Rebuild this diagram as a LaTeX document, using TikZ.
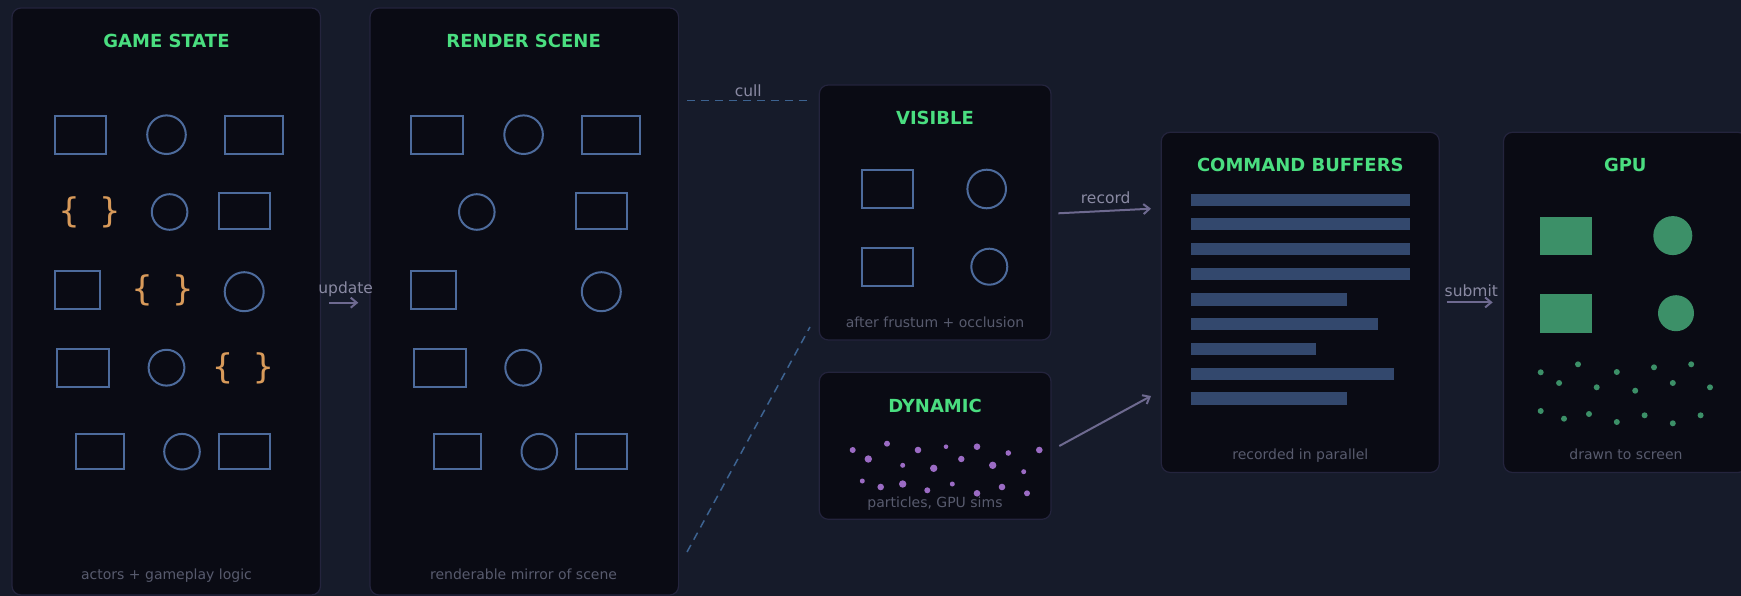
\documentclass[tikz,border=0pt]{standalone}
\usepackage{fontspec}
\setmainfont{DejaVu Sans}
\newfontfamily\bracefont{DejaVu Sans Mono}
\usetikzlibrary{arrows.meta,calc}
\definecolor{bgcol}{HTML}{161B2A}
\definecolor{panelfill}{HTML}{0A0B14}
\definecolor{panelborder}{HTML}{24243D}
\definecolor{titlegreen}{HTML}{4ADE80}
\definecolor{footgray}{HTML}{585B6E}
\definecolor{labelgray}{HTML}{8A8AA3}
\definecolor{objblue}{HTML}{4D6B9C}
\definecolor{braceorange}{HTML}{D89A5A}
\definecolor{arrowcol}{HTML}{6E6A90}
\definecolor{cullblue}{HTML}{3D6391}
\definecolor{barblue}{HTML}{33486D}
\definecolor{gpugreen}{HTML}{3C9068}
\definecolor{dotpurple}{HTML}{9B6BC4}
\begin{document}
\begin{tikzpicture}[x=1pt,y=-1pt,
  panel/.style={draw=panelborder, line width=1.2pt, fill=panelfill, rounded corners=9pt, inner sep=0pt, outer sep=0pt},
  ptitle/.style={text=titlegreen, font=\bfseries\fontsize{18}{20}\selectfont, anchor=base, inner sep=0pt},
  pfoot/.style={text=footgray, font=\fontsize{14}{16}\selectfont, anchor=base, inner sep=0pt},
  lbl/.style={text=labelgray, font=\fontsize{15.5}{17}\selectfont, anchor=base, inner sep=0pt},
  obj/.style={draw=objblue, line width=2pt},
  brace/.style={text=braceorange, font=\bracefont\fontsize{34}{36}\selectfont, inner sep=0pt},
  flow/.style={draw=arrowcol, line width=2pt, -{Straight Barb[length=6pt,width=10pt]}},
  cullline/.style={draw=cullblue, line width=1.5pt, dash pattern=on 8pt off 6pt},
  bar/.style={fill=barblue},
  gfill/.style={fill=gpugreen},
  pdot/.style={fill=dotpurple},
]
\useasboundingbox (0,0) rectangle (1741,596);
\clip (0,0) rectangle (1741,596);
\fill[bgcol] (0,0) rectangle (1741,596);

% panels
\node[panel, minimum width=308.5pt, minimum height=587pt] (gs) at (166.25,301.5) {};
\node[panel, minimum width=308.6pt, minimum height=587pt] (rs) at (524.3,301.5) {};
\node[panel, minimum width=231.7pt, minimum height=255pt] (vis) at (935.15,212.5) {};
\node[panel, minimum width=231.7pt, minimum height=147pt] (dyn) at (935.15,445.8) {};
\node[panel, minimum width=278pt, minimum height=340.2pt] (cb) at (1300.3,302.4) {};
\node[panel, minimum width=243.5pt, minimum height=340.2pt] (gpu) at (1625.25,302.4) {};

% titles
\node[ptitle] (gsT) at (166.5,47.3) {GAME STATE};
\node[ptitle] (rsT) at (523.6,47.3) {RENDER SCENE};
\node[ptitle] (visT) at (935,124.9) {VISIBLE};
\node[ptitle] (dynT) at (935,412.3) {DYNAMIC};
\node[ptitle] (cbT) at (1300.3,171.6) {COMMAND BUFFERS};
\node[ptitle] (gpuT) at (1625.3,171.6) {GPU};

% footers
\node[pfoot] (gsF) at (166.5,579.5) {actors + gameplay logic};
\node[pfoot] (rsF) at (523.6,579.5) {renderable mirror of scene};
\node[pfoot] (visF) at (935,327.8) {after frustum + occlusion};
\node[pfoot] (dynF) at (935,507) {particles, GPU sims};
\node[pfoot] (cbF) at (1300.3,459) {recorded in parallel};
\node[pfoot] (gpuF) at (1626,459.5) {drawn to screen};

% game state objects
\draw[obj] (54.5,115.7) rectangle (105.8,154.3);
\draw[obj] (166.5,134.7) circle[radius=19.3];
\draw[obj] (225.4,115.7) rectangle (282.6,154.3);
\node[brace] (br1) at (89.5,212) {\{ \}};
\draw[obj] (169.6,212) circle[radius=17.8];
\draw[obj] (219.2,193.3) rectangle (270,229.3);
\draw[obj] (54.5,270.7) rectangle (99.6,309.3);
\node[brace] (br2) at (162.5,290) {\{ \}};
\draw[obj] (244.2,291.7) circle[radius=19.5];
\draw[obj] (57.1,349.3) rectangle (108.5,387.3);
\draw[obj] (166.5,367.7) circle[radius=17.9];
\node[brace] (br3) at (243,368) {\{ \}};
\draw[obj] (75.9,434) rectangle (124.1,469.3);
\draw[obj] (182,451.7) circle[radius=17.8];
\draw[obj] (219.2,434) rectangle (270,469.3);

% render scene objects
\draw[obj] (411,115.7) rectangle (463,154.3);
\draw[obj] (523.6,134.7) circle[radius=19.3];
\draw[obj] (581.7,115.7) rectangle (639.7,154.3);
\draw[obj] (476.8,212) circle[radius=17.8];
\draw[obj] (575.9,193.3) rectangle (627.2,229.3);
\draw[obj] (411,270.7) rectangle (456,309.3);
\draw[obj] (601.3,291.7) circle[radius=19.5];
\draw[obj] (414.3,349.3) rectangle (466,387.3);
\draw[obj] (523.2,367.7) circle[radius=17.9];
\draw[obj] (434,434) rectangle (481,469.3);
\draw[obj] (539.3,451.7) circle[radius=17.8];
\draw[obj] (576,434) rectangle (627,469.3);

% visible objects
\draw[obj] (862,170) rectangle (913.3,208.3);
\draw[obj] (986.7,189) circle[radius=19.3];
\draw[obj] (862,247.7) rectangle (913.3,286);
\draw[obj] (989.3,266.7) circle[radius=18];

% dynamic particles
\foreach \x/\y/\r in {852.7/450/3, 868.3/459/3.7, 887/443.7/3, 902.7/465.3/2.5, 918/450/3.3,
  933.7/468.3/3.7, 946/446.7/2.3, 961.3/459/3.2, 977/446.7/3.3, 992.7/465.3/3.7,
  1008.3/453/2.8, 1023.7/471.7/2.5, 1039.3/450/3.3, 862.3/481/2.5, 880.7/487/3.3,
  902.7/484/3.7, 927.3/490.3/3, 952.3/484/2.5, 977/493.3/3.3, 1002/487/3.3, 1027/493.3/3}
  \fill[pdot] (\x,\y) circle[radius=\r];

% command buffer bars
\foreach \ya/\yb/\xe in {193.7/205.7/1409.5, 218.3/230.5/1409.5, 243.3/255.5/1409.5,
  268.3/280.3/1409.5, 293.3/305.5/1346.5, 318.3/330.3/1378.4, 343/355/1315.5,
  368/380.3/1393.5, 392.3/404.5/1346.5}
  \fill[bar] (1191.2,\ya) rectangle (\xe,\yb);

% gpu
\fill[gfill] (1540,216.7) rectangle (1591.8,255.3);
\fill[gfill] (1540,294.3) rectangle (1591.8,332.7);
\fill[gfill] (1672.8,235.6) circle[radius=19.5];
\fill[gfill] (1676,313.2) circle[radius=18];
\foreach \x/\y in {1540.7/372.3, 1559.1/383, 1578/364.3, 1596.7/387.3, 1616.8/372,
  1635.2/390.7, 1654/367.3, 1672.8/383, 1691.2/364.3, 1710/387.3,
  1540.7/411, 1564/418.7, 1589/414, 1616.8/422, 1644.6/415.3, 1672.8/423.3, 1700.6/415.3}
  \fill[gfill] (\x,\y) circle[radius=3];

% connectors
\draw[flow] ([xshift=8.5pt,yshift=-1.2pt]gs.east) -- ([xshift=-11.7pt,yshift=-1.2pt]rs.west);
\node[lbl] (updL) at (345.7,294) {update};

\coordinate (cullA) at (687,100.7);
\coordinate (cullC) at (687,552);
\coordinate (cullD) at (810,327);
\draw[cullline] (cullA) -- ($(cullA -| vis.west)+(-7.3,0)$);
\draw[cullline] (cullC) -- (cullD);
\node[lbl] (cullL) at (748.3,96.5) {cull};

\draw[flow] ([xshift=7.3pt,yshift=-0.8pt]vis.east) -- ([xshift=-10.3pt,yshift=93.7pt]cb.west);
\node[lbl] (recL) at (1105.7,204) {record};
\draw[flow] ([xshift=8.3pt,yshift=-0.2pt]dyn.east) -- ([xshift=-10.3pt,yshift=-93.6pt]cb.west);

\draw[flow] ([xshift=7.4pt]cb.east) -- ([xshift=-10.8pt]gpu.west);
\node[lbl] (subL) at (1471.3,296) {submit};
\end{tikzpicture}
\end{document}
